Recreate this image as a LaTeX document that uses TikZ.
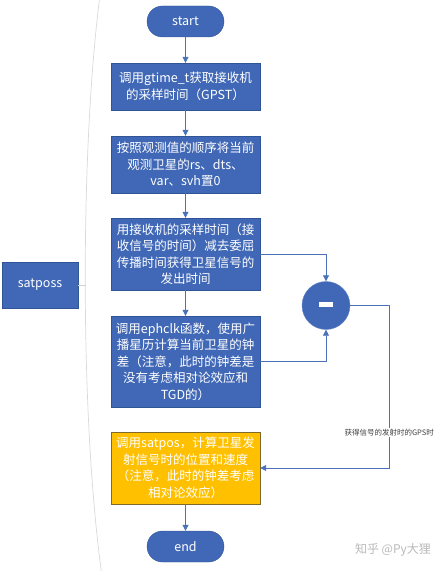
\documentclass[tikz,border=0pt]{standalone}
\usepackage{fontspec}
\setmainfont{Noto Sans CJK SC}
\usetikzlibrary{positioning, arrows.meta}
\definecolor{boxblue}{HTML}{4068B6}
\definecolor{boxedge}{HTML}{2F5597}
\definecolor{lineblue}{HTML}{4A72B8}
\definecolor{boxorange}{HTML}{FFC000}
\definecolor{orangeedge}{HTML}{7F6A2A}
\newcommand{\tsz}{\fontsize{12.5bp}{16.5bp}\selectfont}

\begin{document}
\begin{tikzpicture}[x=1bp, y=-1bp, >={Triangle[length=6bp, width=6bp]},
	stepbox/.style={draw=boxedge, rectangle, fill=boxblue, text=white, minimum width=149bp, align=center, inner sep=1bp, font=\tsz},
	endbox/.style={draw=boxedge, fill=boxblue, text=white, rounded corners=15.5bp, minimum width=77bp, minimum height=31bp, font=\tsz},
	flow/.style={draw=lineblue, line width=0.8bp}]
	\useasboundingbox (0,0) rectangle (448,571);

	\draw[gray!30, line width=0.7bp] (100,-5) .. controls (80,150) and (80,420) .. (102,576);
	\coordinate (brace) at (86,285);

	\node[endbox] (start) at (185.5,21.5) {start};
	\node[stepbox, minimum height=47bp] (step1) at (185.5,86.5) {调用gtime\_t获取接收机\\的采样时间（GPST）};
	\node[stepbox, minimum height=57bp] (step2) at (185.5,164.5) {按照观测值的顺序将当前\\观测卫星的rs、dts、\\var、svh置0};
	\node[stepbox, minimum height=72bp] (step3) at (185.5,254) {用接收机的采样时间（接\\收信号的时间）减去委屈\\传播时间获得卫星信号的\\发出时间};
	\node[stepbox, minimum height=91bp] (step4) at (185.5,361.5) {调用ephclk函数，使用广\\播星历计算当前卫星的钟\\差（注意，此时的钟差是\\没有考虑相对论效应和\\TGD的）};
	\node[stepbox, draw=orangeedge, fill=boxorange, minimum height=72bp] (step5) at (185.5,468) {调用satpos，计算卫星发\\射信号时的位置和速度\\（注意，此时的钟差考虑\\相对论效应）};
	\node[endbox] (stop) at (185.5,546.5) {end};

	\node[stepbox, minimum width=76bp, minimum height=46bp] (satposs) at (40,285) {satposs};
	\node[draw=boxblue!80!white, circle, fill=boxblue, minimum size=48bp, text=white] (minus) at (326,305.5) {\rule[0.2ex]{14bp}{5bp}};

	\draw[flow, ->] (start) -- (step1);
	\draw[flow, ->] (step1) -- (step2);
	\draw[flow, ->] (step2) -- (step3);
	\draw[flow, ->] (step3) -- (step4);
	\draw[flow, ->] (step5) -- (stop);
	\draw[flow, ->] (step3.east) -| (minus.north);
	\draw[flow, ->] (step4.east) -| (minus.south);
	\draw[flow, ->] (minus.east) -- ++(39,0) |- node[pos=0.39, fill=white, inner sep=1bp, text=black!75, font=\fontsize{7.5bp}{9bp}\selectfont] (gpslabel) {获得信号的发射时的GPS时} (step5.east);
	\draw[gray!35, line width=0.7bp] (satposs.east) -- (brace);

	\node[text=gray!55, font=\fontsize{12bp}{14bp}\selectfont] (mark) at (393,550) {知乎 @Py大狸};
\end{tikzpicture}
\end{document}
